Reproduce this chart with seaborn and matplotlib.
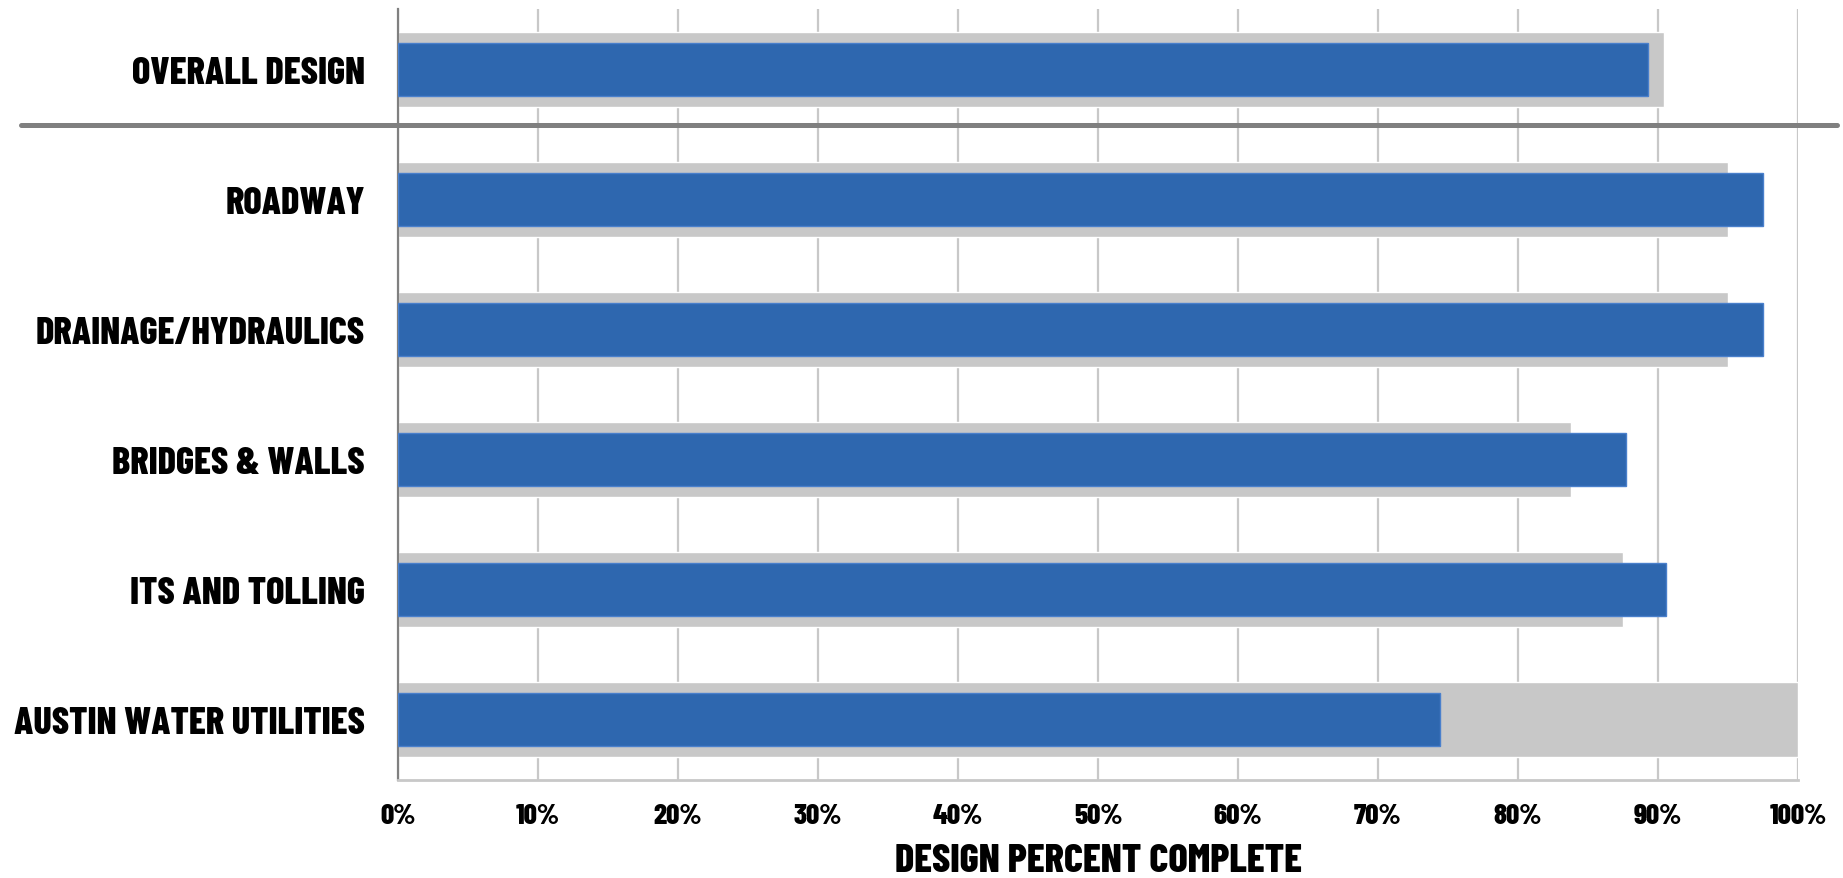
import pandas as pd
import numpy as np
import matplotlib.pyplot as plt
import matplotlib.lines as mlines
import seaborn as sns

categories = ['OVERALL DESIGN', 'ROADWAY', 'DRAINAGE/HYDRAULICS',
              'BRIDGES & WALLS', 'ITS AND TOLLING', 'AUSTIN WATER UTILITIES']
planned = [90.4, 95.0, 95.0, 83.8, 87.5, 100.0]
actual = [89.3, 97.5, 97.5, 87.7, 90.6, 74.4]
xticks = [0, 10, 20, 30, 40, 50, 60, 70, 80, 90, 100]
xtick_labels = ['%d%%' % t for t in xticks]

df = pd.DataFrame({'category': categories, 'planned': planned, 'actual': actual})

sns.set_style('white')
plt.rcParams['font.family'] = ['Barlow Condensed', 'Liberation Sans Narrow', 'DejaVu Sans']
plt.rcParams['font.weight'] = 800

fig = plt.figure(figsize=(18.43, 8.79), dpi=100)
ax = fig.add_axes([0.216, 0.111, 0.7596, 0.878])

sns.barplot(data=df, y='category', x='planned', order=categories, color='#c8c8c8',
            width=0.58, saturation=1, orient='h', ax=ax, zorder=2)
sns.barplot(data=df, y='category', x='actual', order=categories, color='#2e67af',
            width=0.41, saturation=1, orient='h', ax=ax, zorder=3,
            edgecolor='#4a80cc', linewidth=1)

ax.set_xlim(0, 100)
ax.set_ylim(5.47, -0.47)
ax.set_xticks(xticks)
ax.set_xticklabels(xtick_labels)
ax.grid(axis='x', color='#c8c8c8', linewidth=1.6)
ax.grid(axis='y', visible=False)
ax.set_axisbelow(True)

for side in ['top', 'right']:
    ax.spines[side].set_visible(False)
ax.spines['left'].set_color('#808080')
ax.spines['left'].set_linewidth(1.6)
ax.spines['bottom'].set_color('#c8c8c8')
ax.spines['bottom'].set_linewidth(2)

ax.tick_params(axis='x', direction='out', length=6, width=1.5, color='#c0c0c0',
               pad=10, labelsize=21, labelcolor='black')
ax.tick_params(axis='y', length=0, pad=24, labelsize=27.5, labelcolor='black')
for lab in ax.get_xticklabels() + ax.get_yticklabels():
    lab.set_fontweight(800)

ax.set_ylabel('')
ax.set_xlabel('DESIGN PERCENT COMPLETE', fontsize=29, fontweight=800, color='black',
              labelpad=11)

# separator between overall and individual disciplines
sep = mlines.Line2D([21 / 1843, 1837 / 1843], [1 - 125.8 / 879, 1 - 125.8 / 879],
                    transform=fig.transFigure, color='#808080', linewidth=3.6)
fig.add_artist(sep)

fig.savefig('out.png', dpi=100, facecolor='white')
